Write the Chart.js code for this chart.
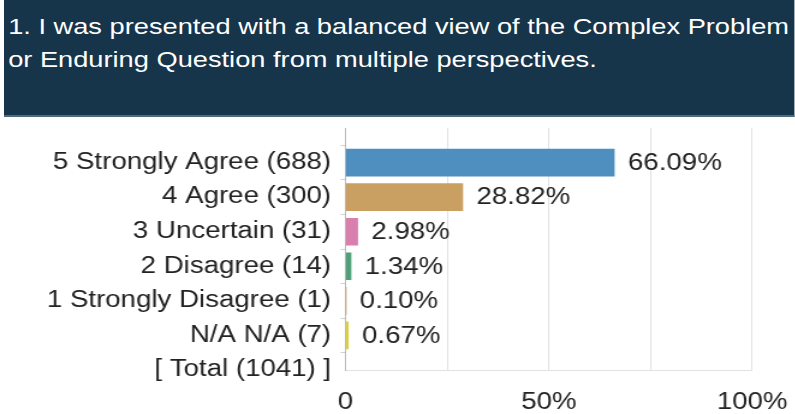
<!DOCTYPE html>
<html lang="en">
<head>
    <meta charset="UTF-8">
    <title>Balanced view</title>
    <script src="https://cdn.jsdelivr.net/npm/chart.js@4/dist/chart.umd.min.js"></script>
    <style>
        body { margin: 0; background: #fff; overflow: hidden; }
        /* исходная картинка растянута по горизонтали ~1.2 */
        #wrap {
            position: relative; width: 662.5px; height: 414px;
            transform: scaleX(1.2); transform-origin: 0 0;
        }
        #header {
            position: absolute; left: 3.3px; top: 0; width: 659.2px; height: 115px;
            background: #17354a; border-bottom: 2px solid #4d6b80;
        }
        #title {
            position: absolute; left: 3.5px; top: 10px;
            color: #fff; font-family: "Liberation Sans", Arial, sans-serif;
            font-size: 22.7px; line-height: 33px; white-space: nowrap;
        }
        #chart-container { position: absolute; left: 0; top: 0; width: 662.5px; height: 414px; }
    </style>
</head>
<body>
<div id="wrap">
    <div id="chart-container"><canvas id="myChart"></canvas></div>
    <div id="header">
        <div id="title">1. I was presented with a balanced view of the Complex Problem<br>or Enduring Question from multiple perspectives.</div>
    </div>
</div>
<script>
    // данные с картинки
    const categories = ['', '5 Strongly Agree (688)', '4 Agree (300)', '3 Uncertain (31)',
        '2 Disagree (14)', '1 Strongly Disagree (1)', 'N/A N/A (7)', '[ Total (1041) ]'];
    const percents = [null, 66.09, 28.82, 2.98, 1.34, 0.10, 0.67, null];
    const barColors = ['#fff', '#4f8fbf', '#c9a061', '#d87fae', '#4f9f79', '#c99452', '#dcd042', '#fff'];
    const xTicks = { 0: '0', 50: '50%', 100: '100%' };

    const FONT = '"Liberation Sans", Arial, sans-serif';

    // подписи справа от столбцов
    const valueLabels = {
        id: 'valueLabels',
        afterDatasetsDraw(chart) {
            const ctx = chart.ctx;
            const meta = chart.getDatasetMeta(0);
            ctx.save();
            ctx.font = '23px ' + FONT;
            ctx.fillStyle = '#222';
            ctx.textBaseline = 'middle';
            meta.data.forEach((bar, i) => {
                if (percents[i] === null) return;
                ctx.fillText(percents[i].toFixed(2) + '%', bar.x + 11.5, bar.y + 1);
            });
            ctx.restore();
        }
    };

    const ctx = document.getElementById('myChart').getContext('2d');
    new Chart(ctx, {
        type: 'bar',
        data: {
            labels: categories,
            datasets: [{
                data: percents,
                backgroundColor: barColors,
                barThickness: 27
            }]
        },
        options: {
            indexAxis: 'y',
            responsive: true,
            maintainAspectRatio: false,
            animation: false,
            layout: { padding: { left: 0, right: 36.7, top: 128, bottom: 0 } },
            plugins: { legend: { display: false }, tooltip: { enabled: false } },
            scales: {
                x: {
                    min: 0, max: 100,
                    afterFit(scale) {
                        scale.height = 44;
                        scale.paddingLeft = 0;
                        scale.paddingRight = 0;
                    },
                    ticks: {
                        stepSize: 25,
                        autoSkip: false,
                        maxRotation: 0,
                        padding: 19,
                        color: '#222',
                        font: { size: 23, family: FONT },
                        callback: v => xTicks[v] !== undefined ? xTicks[v] : ''
                    },
                    grid: { color: '#e2e2e2', drawTicks: false },
                    border: { color: '#e2e2e2' }
                },
                y: {
                    offset: false,
                    afterFit(scale) { scale.width = 287.5; },
                    ticks: {
                        autoSkip: false,
                        padding: 8,
                        color: '#222',
                        font: { size: 23, family: FONT }
                    },
                    grid: { drawOnChartArea: false, drawTicks: true, tickLength: 4, color: '#d0d0d0' },
                    border: { color: '#b8b8b8' }
                }
            }
        },
        plugins: [valueLabels]
    });
</script>
</body>
</html>
